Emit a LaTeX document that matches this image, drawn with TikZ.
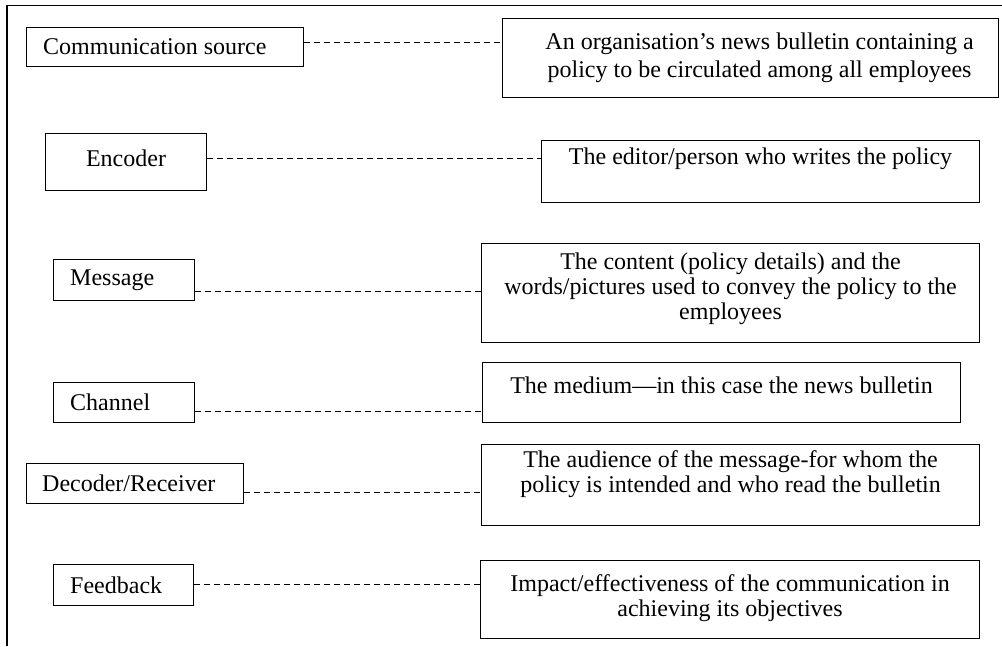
\documentclass[tikz,border=0pt]{standalone}
\usepackage{fontspec}
\setmainfont{Liberation Serif}
\begin{document}
\begin{tikzpicture}[x=1pt, y=-1pt,
  frameline/.style={line width=1.3pt},
  box/.style={draw, line width=1.1pt, inner sep=0pt, anchor=north west},
  txt/.style={inner sep=0pt, align=center, font=\fontsize{24}{25}\selectfont},
  link/.style={line width=0.9pt, dash pattern=on 6pt off 4pt}
]
\useasboundingbox (0,0) rectangle (1002,646);

% outer frame: top rule and left rule
\draw[frameline] (7,646) -- (7,5.5) -- (1002,5.5);

% terms on the left
\node[box, minimum width=277pt, minimum height=39pt] (src) at (26,27) {};
\node[box, minimum width=161pt, minimum height=57pt] (enc) at (45,133) {};
\node[box, minimum width=141pt, minimum height=41pt] (msg) at (53,259) {};
\node[box, minimum width=141pt, minimum height=40pt] (chn) at (53,382) {};
\node[box, minimum width=217pt, minimum height=40pt] (dec) at (26,463) {};
\node[box, minimum width=140pt, minimum height=41pt] (fbk) at (53,564) {};

\node[txt, anchor=west] (srcT) at ([xshift=17pt]src.west) {Communication source};
\node[txt] (encT) at (enc.center |- 0,158) {Encoder};
\node[txt, anchor=west] (msgT) at ([xshift=17pt]msg.west) {Message};
\node[txt, anchor=west] (chnT) at ([xshift=17pt]chn.west) {Channel};
\node[txt, anchor=west] (decT) at ([xshift=16pt]dec.west) {Decoder/Receiver};
\node[txt, anchor=west] (fbkT) at ([xshift=17pt]fbk.west) {Feedback};

% descriptions on the right
\node[box, minimum width=496pt, minimum height=79pt] (d1) at (502,18) {};
\node[box, minimum width=438pt, minimum height=62pt] (d2) at (541,140) {};
\node[box, minimum width=498pt, minimum height=99pt] (d3) at (481,243) {};
\node[box, minimum width=478pt, minimum height=60pt] (d4) at (482,362) {};
\node[box, minimum width=498pt, minimum height=81pt] (d5) at (481,444) {};
\node[box, minimum width=499pt, minimum height=78pt] (d6) at (480,560) {};

\node[txt, font=\fontsize{24}{28}\selectfont] (d1T) at ([xshift=9pt]d1.center |- 0,58) {An organisation’s news bulletin containing a\\policy to be circulated among all employees};
\node[txt] (d2T) at (d2.center |- 0,159) {The editor/person who writes the policy};
\node[txt] (d3T) at (d3.center |- 0,289) {The content (policy details) and the\\words/pictures used to convey the policy to the\\employees};
\node[txt] (d4T) at (d4.center |- 0,385) {The medium—in this case the news bulletin};
\node[txt] (d5T) at (d5.center |- 0,474) {The audience of the message-for whom the\\policy is intended and who read the bulletin};
\node[txt] (d6T) at (d6.center |- 0,598) {Impact/effectiveness of the communication in\\achieving its objectives};

% dashed links
\draw[link] (src.east |- 0,42)  -- (d1.west |- 0,42);
\draw[link] (enc.east |- 0,158) -- (d2.west |- 0,158);
\draw[link] (msg.east |- 0,291) -- (d3.west |- 0,291);
\draw[link] (chn.east |- 0,411) -- (d4.west |- 0,411);
\draw[link] (dec.east |- 0,492) -- (d5.west |- 0,492);
\draw[link] (fbk.east |- 0,584) -- (d6.west |- 0,584);
\end{tikzpicture}
\end{document}
